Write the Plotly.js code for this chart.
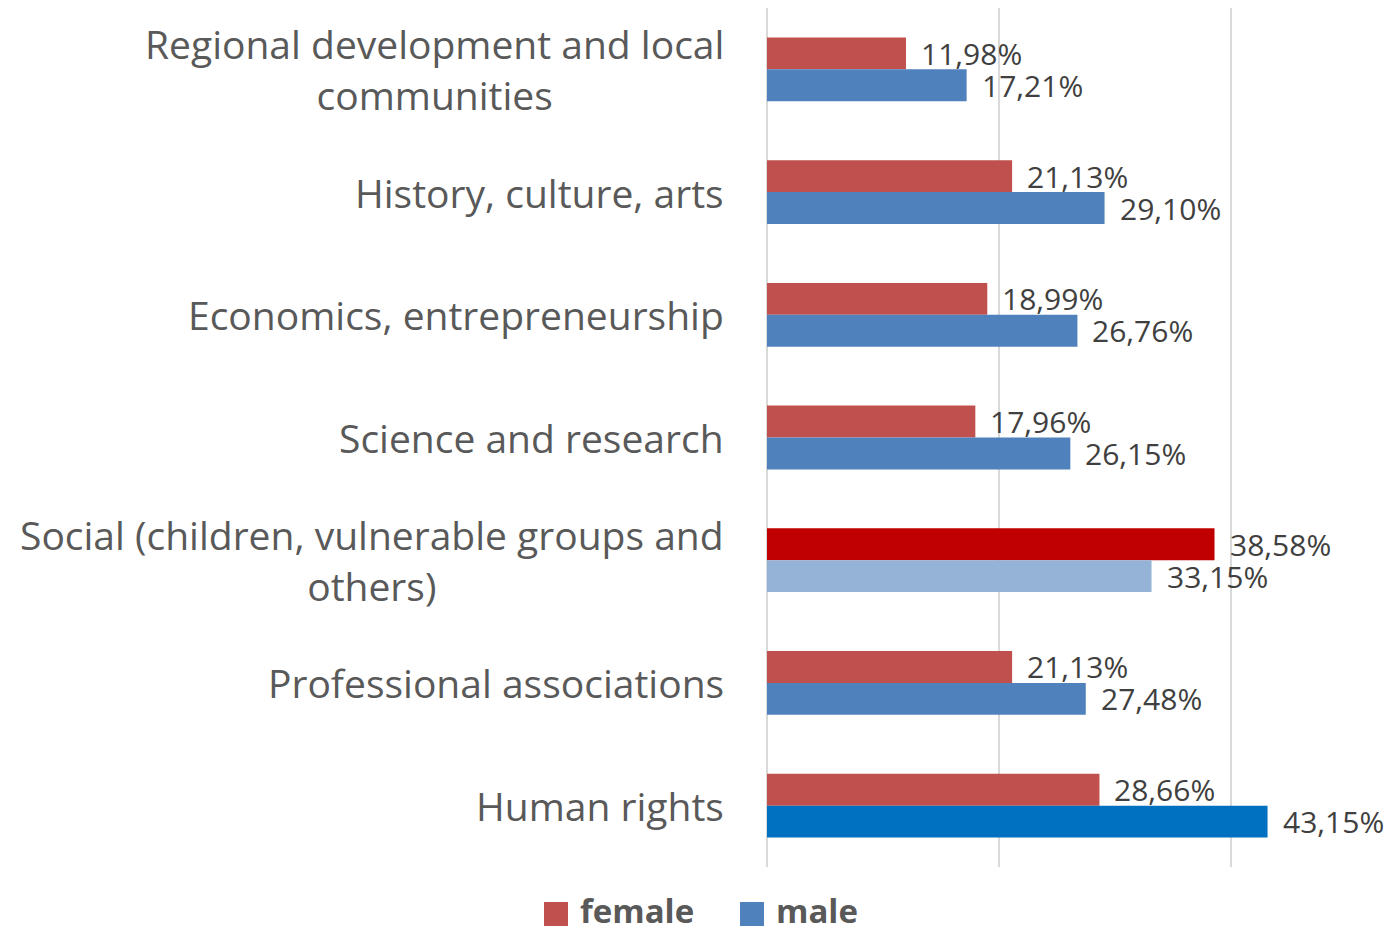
<!DOCTYPE html>
<html>
<head>
<meta charset="utf-8">
<script src="https://cdn.plot.ly/plotly-3.0.1.min.js"></script>
<style>html,body{margin:0;padding:0;background:#fff;}#chart{width:1387px;height:934px;}</style>
</head>
<body>
<div id="chart"></div>
<script>
const categories = [
  "Regional development and local<br>communities",
  "History, culture, arts",
  "Economics, entrepreneurship",
  "Science and research",
  "Social (children, vulnerable groups and<br>others)",
  "Professional associations",
  "Human rights"
];
const female = [11.98, 21.13, 18.99, 17.96, 38.58, 21.13, 28.66];
const male = [17.21, 29.10, 26.76, 26.15, 33.15, 27.48, 43.15];
const seriesNames = ["female", "male"];

const femaleColors = ["#C0504D", "#C0504D", "#C0504D", "#C0504D", "#C00000", "#C0504D", "#C0504D"];
const maleColors = ["#4F81BD", "#4F81BD", "#4F81BD", "#4F81BD", "#95B3D7", "#4F81BD", "#0070C0"];

const W = 1387, H = 934;
const M = {l: 767, r: 40, t: 8, b: 67};
const PW = W - M.l - M.r, PH = H - M.t - M.b;
const px2x = p => (p - M.l) / PW;
const px2y = p => (H - M.b - p) / PH;

const FONT = "Open Sans, Noto Sans, sans-serif";
const BARGAP = 0.48;
const halfBar = (1 - BARGAP) / 4;

const fmt = v => v.toFixed(2).replace(".", ",") + "%";

const yIdx = categories.map((c, i) => i);

const traces = [
  {type: "bar", orientation: "h", name: seriesNames[0], x: female, y: yIdx,
   marker: {color: femaleColors, line: {width: 0}}, showlegend: false, hoverinfo: "x+name"},
  {type: "bar", orientation: "h", name: seriesNames[1], x: male, y: yIdx,
   marker: {color: maleColors, line: {width: 0}}, showlegend: false, hoverinfo: "x+name"}
];

const annotations = [];
categories.forEach((c, i) => {
  annotations.push({xref: "paper", x: 0, xshift: -41, xanchor: "right", yref: "y", y: i, yanchor: "middle",
    text: c, align: "center", showarrow: false, font: {family: FONT, size: 39, color: "#595959"}});
});
female.forEach((v, i) => {
  annotations.push({xref: "x", x: v, xshift: 13, xanchor: "left", yref: "y", y: i - halfBar, yanchor: "middle",
    text: fmt(v), showarrow: false, font: {family: FONT, size: 30, color: "#404040"}});
});
male.forEach((v, i) => {
  annotations.push({xref: "x", x: v, xshift: 13, xanchor: "left", yref: "y", y: i + halfBar, yanchor: "middle",
    text: fmt(v), showarrow: false, font: {family: FONT, size: 30, color: "#404040"}});
});

// legend
const legendItems = [
  {name: seriesNames[0], color: femaleColors[0], sq: 544, tx: 579},
  {name: seriesNames[1], color: maleColors[0], sq: 740, tx: 775}
];
const shapes = [];
legendItems.forEach(it => {
  shapes.push({type: "rect", xref: "paper", yref: "paper",
    x0: px2x(it.sq), x1: px2x(it.sq + 24), y0: px2y(926), y1: px2y(902),
    fillcolor: it.color, line: {width: 0}});
  annotations.push({xref: "paper", yref: "paper", x: px2x(it.tx), y: px2y(934), xanchor: "left", yanchor: "bottom",
    borderpad: 0, text: "<b>" + it.name + "</b>", showarrow: false, font: {family: FONT, size: 33, color: "#595959"}});
});

const layout = {
  width: W, height: H,
  margin: M,
  paper_bgcolor: "#fff", plot_bgcolor: "#fff",
  barmode: "group", bargap: BARGAP, bargroupgap: 0,
  showlegend: false,
  xaxis: {range: [0, 50], dtick: 20, tick0: 0, showticklabels: false, showgrid: true,
    gridcolor: "#D9D9D9", gridwidth: 2, zeroline: true, zerolinecolor: "#D9D9D9", zerolinewidth: 2,
    showline: false, ticks: "", fixedrange: true},
  yaxis: {type: "linear", range: [categories.length - 0.5, -0.5], showticklabels: false, showgrid: false,
    zeroline: false, showline: false, ticks: "", fixedrange: true},
  annotations: annotations,
  shapes: shapes,
  font: {family: FONT}
};

Plotly.newPlot("chart", traces, layout, {displayModeBar: false, staticPlot: true});
</script>
</body>
</html>
